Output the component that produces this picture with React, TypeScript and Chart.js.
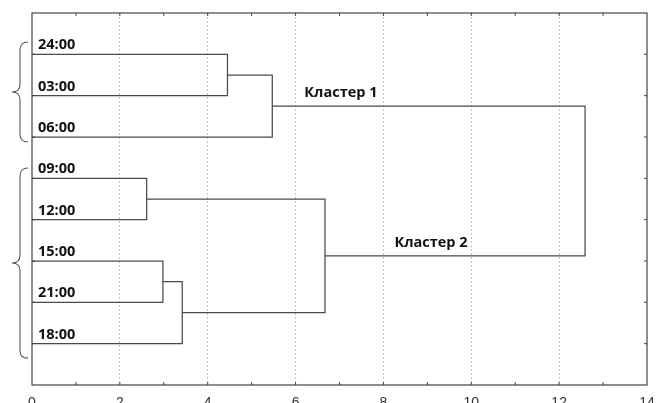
import React, { useEffect, useRef } from "react";
import { Chart, registerables } from "chart.js";

Chart.register(...registerables);

// Leaves in top-to-bottom order
const leafLabels = ["24:00", "03:00", "06:00", "09:00", "12:00", "15:00", "21:00", "18:00"];
// Merges: node ids 0..7 are leaves, merge k creates node 8 + k
const mergeLeft = [0, 8, 3, 5, 11, 10, 9];
const mergeRight = [1, 2, 4, 6, 7, 12, 13];
const mergeHeights = [4.45, 5.47, 2.61, 2.98, 3.42, 6.67, 12.59];
const xTicks = [0, 2, 4, 6, 8, 10, 12, 14];
const clusterNames = ["Кластер 1", "Кластер 2"];
const clusterNodes = [9, 13];
const clusterLabelX = [6.2, 8.25];
const braceStart = [0.7, 3.75];
const braceEnd = [3.12, 8.35];

const LINE = "#4a4a4a";

function buildNodes() {
  const nodes: { x: number; y: number }[] = leafLabels.map((_, i) => ({ x: 0, y: i + 1 }));
  mergeHeights.forEach((h, k) => {
    const a = nodes[mergeLeft[k]];
    const b = nodes[mergeRight[k]];
    nodes.push({ x: h, y: (a.y + b.y) / 2 });
  });
  return nodes;
}

export default function App() {
  const ref = useRef<HTMLCanvasElement | null>(null);

  useEffect(() => {
    const nodes = buildNodes();
    const datasets = mergeHeights.map((h, k) => {
      const a = nodes[mergeLeft[k]];
      const b = nodes[mergeRight[k]];
      return {
        data: [
          { x: a.x, y: a.y },
          { x: h, y: a.y },
          { x: h, y: b.y },
          { x: b.x, y: b.y },
        ],
        showLine: true,
        borderColor: LINE,
        borderWidth: 1.25,
        pointRadius: 0,
        fill: false,
        tension: 0,
      };
    });

    const overlay = {
      id: "overlay",
      afterDatasetsDraw(chart: any) {
        const { ctx, chartArea: a, scales } = chart;
        const x = scales.x;
        const y = scales.y;
        ctx.save();
        ctx.strokeStyle = "#444";
        ctx.lineWidth = 1.2;
        ctx.strokeRect(a.left, a.top, a.right - a.left, a.bottom - a.top);
        const seg = (x1: number, y1: number, x2: number, y2: number) => {
          ctx.beginPath();
          ctx.moveTo(x1, y1);
          ctx.lineTo(x2, y2);
          ctx.stroke();
        };
        ctx.lineWidth = 1;
        for (let v = 1; v < 14; v++) {
          const px = x.getPixelForValue(v);
          seg(px, a.top, px, a.top + 3);
          seg(px, a.bottom, px, a.bottom - 3);
        }
        leafLabels.forEach((_, i) => {
          const py = y.getPixelForValue(i + 1);
          seg(a.left, py, a.left + 3, py);
          seg(a.right - 3, py, a.right, py);
        });

        // leaf labels
        ctx.fillStyle = "#111";
        ctx.font = "bold 14.5px 'Open Sans'";
        ctx.textAlign = "left";
        ctx.textBaseline = "middle";
        leafLabels.forEach((lab, i) => {
          const py = y.getPixelForValue(i + 1);
          ctx.fillText(lab, a.left + 6, py - 9);
        });

        // cluster labels
        clusterNames.forEach((name, i) => {
          const n = nodes[clusterNodes[i]];
          const py = y.getPixelForValue(n.y);
          ctx.fillText(name, x.getPixelForValue(clusterLabelX[i]), py - 13);
        });

        // braces
        ctx.strokeStyle = "#555";
        ctx.lineWidth = 1.1;
        braceStart.forEach((s, i) => {
          const y0 = y.getPixelForValue(s);
          const y1 = y.getPixelForValue(braceEnd[i]);
          const ym = (y0 + y1) / 2;
          const x0 = a.left - 4;
          const x1 = a.left - 20;
          const xm = a.left - 12;
          const r = 8;
          ctx.beginPath();
          ctx.moveTo(x0, y0);
          ctx.quadraticCurveTo(xm, y0, xm, y0 + r);
          ctx.lineTo(xm, ym - r);
          ctx.quadraticCurveTo(xm, ym, x1, ym);
          ctx.quadraticCurveTo(xm, ym, xm, ym + r);
          ctx.lineTo(xm, y1 - r);
          ctx.quadraticCurveTo(xm, y1, x0, y1);
          ctx.stroke();
        });
        ctx.restore();
      },
    };

    const chart = new Chart(ref.current as HTMLCanvasElement, {
      type: "scatter",
      data: { datasets: datasets as any },
      options: {
        animation: false,
        responsive: false,
        layout: { padding: { left: 32, top: 13, right: 10, bottom: 0 } },
        plugins: { legend: { display: false }, tooltip: { enabled: false } },
        scales: {
          x: {
            type: "linear",
            min: 0,
            max: 14,
            position: "bottom",
            afterBuildTicks: (scale: any) => {
              scale.ticks = xTicks.map((v) => ({ value: v }));
            },
            afterFit: (scale: any) => {
              scale.height = 18;
              scale.paddingLeft = 0;
              scale.paddingRight = 0;
            },
            ticks: {
              font: { family: "'Liberation Sans'", size: 14 },
              color: "#333",
              padding: 10,
              maxRotation: 0,
              autoSkip: false,
            },
            grid: {
              color: (c: any) =>
                c.tick && c.tick.value > 0 && c.tick.value < 14 ? "#c4c4c4" : "rgba(0,0,0,0)",
              drawTicks: false,
              lineWidth: 1,
            },
            border: { display: false, dash: [2, 2] },
          },
          y: { type: "linear", min: 0, max: 9, reverse: true, display: false },
        },
      },
      plugins: [overlay],
    });
    return () => chart.destroy();
  }, []);

  return (
    <div style={{ position: "absolute", left: 0, top: 0, width: 657, height: 403, background: "#fff" }}>
      <canvas ref={ref} width={657} height={403} />
    </div>
  );
}
